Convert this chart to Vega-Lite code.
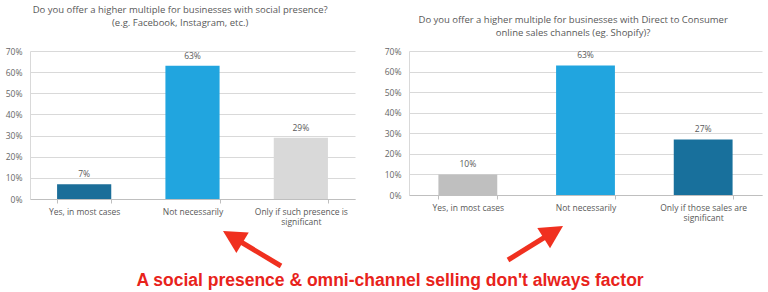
{
  "$schema": "https://vega.github.io/schema/vega-lite/v6.json",
  "padding": {"left": 5, "top": 4, "right": 0, "bottom": 0},
  "background": "white",
  "config": {
    "view": {"stroke": null},
    "font": "Open Sans",
    "axisX": {"labelAngle": 0, "labelFontSize": 8.5, "labelColor": "#595959", "domainColor": "#bfbfbf", "tickColor": "#bfbfbf", "tickBand": "extent", "tickSize": 4, "title": null, "labelPadding": 4, "grid": false},
    "axisY": {"domain": true, "domainColor": "#d9d9d9", "ticks": false, "grid": true, "gridColor": "#d9d9d9", "labelFontSize": 8.5, "labelColor": "#666666", "labelPadding": 8, "title": null},
    "title": {"fontSize": 9.5, "fontWeight": "normal", "color": "#595959", "lineHeight": 13, "frame": "bounds"}
  },
  "datasets": {
    "social": [
      {"answer": "Yes, in most cases", "share": 0.07},
      {"answer": "Not necessarily", "share": 0.63},
      {"answer": "Only if such presence is significant", "share": 0.29}
    ],
    "dtc": [
      {"answer": "Yes, in most cases", "share": 0.10},
      {"answer": "Not necessarily", "share": 0.63},
      {"answer": "Only if those sales are significant", "share": 0.27}
    ],
    "arrows": [
      {"arrow": "left", "x": 251, "y": 34, "x2": 206, "y2": 7, "tipx": 193, "tipy": -1, "angle": 301},
      {"arrow": "right", "x": 478, "y": 28, "x2": 520, "y2": 2, "tipx": 533, "tipy": -6, "angle": 58}
    ],
    "note": [
      {"x": 360, "y": 54, "text": "A social presence & omni-channel selling don't always factor"}
    ]
  },
  "spacing": 0,
  "vconcat": [
    {
      "spacing": 29,
      "resolve": {"scale": {"color": "independent", "x": "independent", "y": "independent"}},
      "hconcat": [
        {
          "width": 325,
          "height": 148,
          "title": {"text": ["Do you offer a higher multiple for businesses with social presence?", "(e.g. Facebook, Instagram, etc.)"], "offset": 20},
          "data": {"name": "social"},
          "encoding": {
            "x": {"field": "answer", "type": "nominal", "sort": null, "scale": {"paddingInner": 0.5, "paddingOuter": 0.25},
              "axis": {"labelExpr": "datum.value == 'Only if such presence is significant' ? ['Only if such presence is', 'significant'] : datum.value"}},
            "y": {"field": "share", "type": "quantitative", "scale": {"domain": [0, 0.7], "nice": false},
              "axis": {"format": ".0%", "values": [0, 0.1, 0.2, 0.3, 0.4, 0.5, 0.6, 0.7]}}
          },
          "layer": [
            {"mark": {"type": "bar"},
             "encoding": {"color": {"field": "answer", "type": "nominal", "legend": null,
               "scale": {"domain": ["Yes, in most cases", "Not necessarily", "Only if such presence is significant"], "range": ["#1b6e99", "#21a5df", "#d9d9d9"]}}}},
            {"mark": {"type": "text", "dy": -5, "baseline": "bottom", "fontSize": 8.5, "color": "#595959"},
             "encoding": {"text": {"field": "share", "type": "quantitative", "format": ".0%"}}}
          ]
        },
        {
          "width": 353,
          "height": 144,
          "title": {"text": ["Do you offer a higher multiple for businesses with Direct to Consumer", "online sales channels (eg. Shopify)?"], "offset": 9.5},
          "data": {"name": "dtc"},
          "encoding": {
            "x": {"field": "answer", "type": "nominal", "sort": null, "scale": {"paddingInner": 0.5, "paddingOuter": 0.25},
              "axis": {"labelExpr": "datum.value == 'Only if those sales are significant' ? ['Only if those sales are', 'significant'] : datum.value"}},
            "y": {"field": "share", "type": "quantitative", "scale": {"domain": [0, 0.7], "nice": false},
              "axis": {"format": ".0%", "values": [0, 0.1, 0.2, 0.3, 0.4, 0.5, 0.6, 0.7]}}
          },
          "layer": [
            {"mark": {"type": "bar"},
             "encoding": {"color": {"field": "answer", "type": "nominal", "legend": null,
               "scale": {"domain": ["Yes, in most cases", "Not necessarily", "Only if those sales are significant"], "range": ["#bfbfbf", "#21a5df", "#18709c"]}}}},
            {"mark": {"type": "text", "dy": -5, "baseline": "bottom", "fontSize": 8.5, "color": "#595959"},
             "encoding": {"text": {"field": "share", "type": "quantitative", "format": ".0%"}}}
          ]
        }
      ]
    },
    {
      "width": 733,
      "height": 60,
      "layer": [
        {
          "data": {"name": "arrows"},
          "mark": {"type": "rule", "color": "#f0301f", "strokeWidth": 5},
          "encoding": {
            "x": {"field": "x", "type": "quantitative", "scale": {"domain": [0, 733]}, "axis": null},
            "y": {"field": "y", "type": "quantitative", "scale": {"domain": [0, 60], "reverse": true}, "axis": null},
            "x2": {"field": "x2"},
            "y2": {"field": "y2"}
          }
        },
        {
          "data": {"name": "arrows"},
          "mark": {"type": "point", "filled": true, "color": "#f0301f", "opacity": 1, "shape": "M0,0L1,1.9L-1,1.9Z", "size": 576},
          "encoding": {
            "x": {"field": "tipx", "type": "quantitative", "scale": {"domain": [0, 733]}, "axis": null},
            "y": {"field": "tipy", "type": "quantitative", "scale": {"domain": [0, 60], "reverse": true}, "axis": null},
            "angle": {"field": "angle", "type": "quantitative", "scale": null}
          }
        },
        {
          "data": {"name": "note"},
          "mark": {"type": "text", "font": "Liberation Sans", "fontWeight": "bold", "fontSize": 17.5, "color": "#e8231b", "baseline": "alphabetic", "align": "center"},
          "encoding": {
            "x": {"field": "x", "type": "quantitative", "scale": {"domain": [0, 733]}, "axis": null},
            "y": {"field": "y", "type": "quantitative", "scale": {"domain": [0, 60], "reverse": true}, "axis": null},
            "text": {"field": "text"}
          }
        }
      ]
    }
  ]
}
